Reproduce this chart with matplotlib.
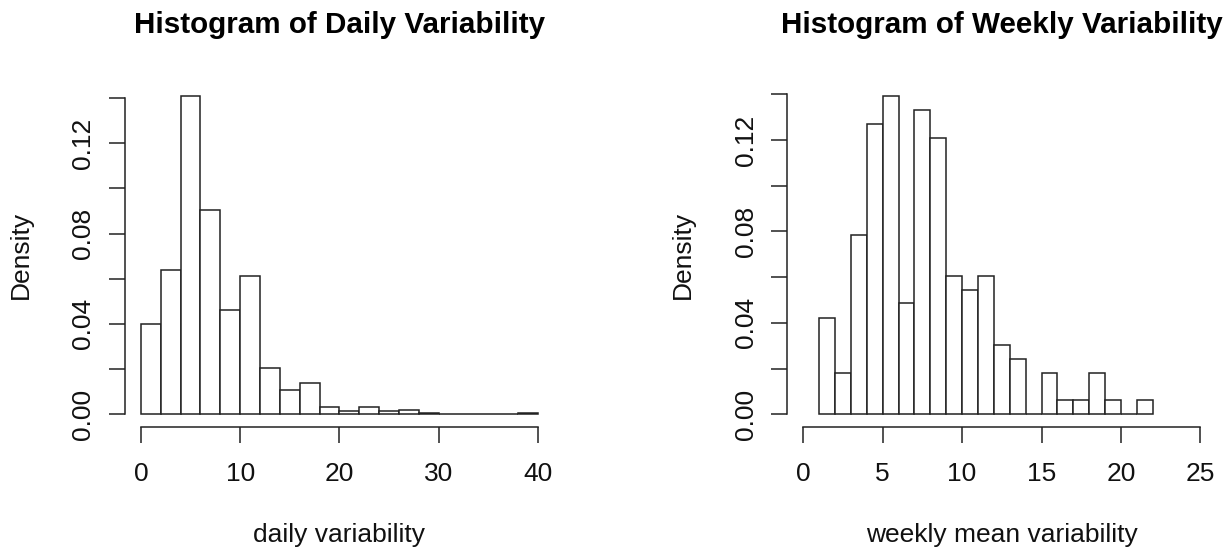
import matplotlib
matplotlib.use("Agg")
import matplotlib.pyplot as plt
import numpy as np

plt.rcParams["font.family"] = ["Liberation Sans", "DejaVu Sans"]

# daily variability: bin edges and densities (bin width 2)
daily_edges = [0, 2, 4, 6, 8, 10, 12, 14, 16, 18, 20, 22, 24, 26, 28, 30, 32, 34, 36, 38, 40]
daily_density = [0.0401, 0.0639, 0.1410, 0.0903, 0.0463, 0.0610, 0.0204, 0.0108, 0.0137, 0.0030,
                 0.0016, 0.0030, 0.0013, 0.0021, 0.0004, 0.0, 0.0, 0.0, 0.0, 0.0004]

# weekly mean variability: bin edges and densities (bin width 1)
weekly_edges = [1, 2, 3, 4, 5, 6, 7, 8, 9, 10, 11, 12, 13, 14, 15, 16, 17, 18, 19, 20, 21, 22]
weekly_density = [0.0423, 0.0181, 0.0785, 0.1272, 0.1394, 0.0485, 0.1330, 0.1209, 0.0603, 0.0545,
                  0.0603, 0.0302, 0.0242, 0.0, 0.0181, 0.0061, 0.0061, 0.0181, 0.0061, 0.0, 0.0061]

daily_xticks = [0, 10, 20, 30, 40]
weekly_xticks = [0, 5, 10, 15, 20, 25]
yticks = [0.0, 0.02, 0.04, 0.06, 0.08, 0.10, 0.12, 0.14]
ytick_labels = ["0.00", "", "0.04", "", "0.08", "", "0.12", ""]

LINE = "#222222"
LW = 1.1


def r_hist(ax, edges, dens, xlim, xticks, xlabel, title):
    edges = np.asarray(edges, dtype=float)
    dens = np.asarray(dens, dtype=float)
    ax.bar(edges[:-1], dens, width=np.diff(edges), align="edge",
           facecolor="white", edgecolor=LINE, linewidth=LW)

    # R-style 4% padding around the data range
    x0, x1 = xlim
    pad_x = 0.04 * (x1 - x0)
    ymax = dens.max()
    pad_y = 0.04 * ymax
    ax.set_xlim(x0 - pad_x, x1 + pad_x)
    ax.set_ylim(-pad_y, ymax + pad_y)

    for s in ("top", "right"):
        ax.spines[s].set_visible(False)
    for s in ("left", "bottom"):
        ax.spines[s].set_color(LINE)
        ax.spines[s].set_linewidth(LW)
    ax.spines["bottom"].set_bounds(xticks[0], xticks[-1])
    ax.spines["left"].set_bounds(yticks[0], yticks[-1])

    ax.set_xticks(xticks)
    ax.set_xticklabels([str(t) for t in xticks])
    ax.set_yticks(yticks)
    ax.set_yticklabels(ytick_labels, rotation=90, va="center")
    ax.tick_params(axis="both", length=11.5, width=LW, color=LINE,
                   labelsize=19, labelcolor="#111111")
    ax.tick_params(axis="x", pad=14)
    ax.tick_params(axis="y", pad=10)

    ax.set_xlabel(xlabel, fontsize=19, color="#111111")
    ax.xaxis.set_label_coords(0.5, -0.28)
    ax.set_ylabel("Density", fontsize=19, color="#111111")
    ax.yaxis.set_label_coords(-0.215, 0.5)
    ax.set_title(title, fontsize=21.3, fontweight="bold", pad=36)


fig = plt.figure(figsize=(12.28, 5.48), dpi=100)
ax1 = fig.add_axes([0.1018, 0.2208, 0.3493, 0.6277])
ax2 = fig.add_axes([0.6412, 0.2208, 0.3492, 0.6277])

r_hist(ax1, daily_edges, daily_density, (0, 40), daily_xticks,
       "daily variability", "Histogram of Daily Variability")
r_hist(ax2, weekly_edges, weekly_density, (0, 25), weekly_xticks,
       "weekly mean variability", "Histogram of Weekly Variability")

fig.savefig("out.png", dpi=100, facecolor="white")
